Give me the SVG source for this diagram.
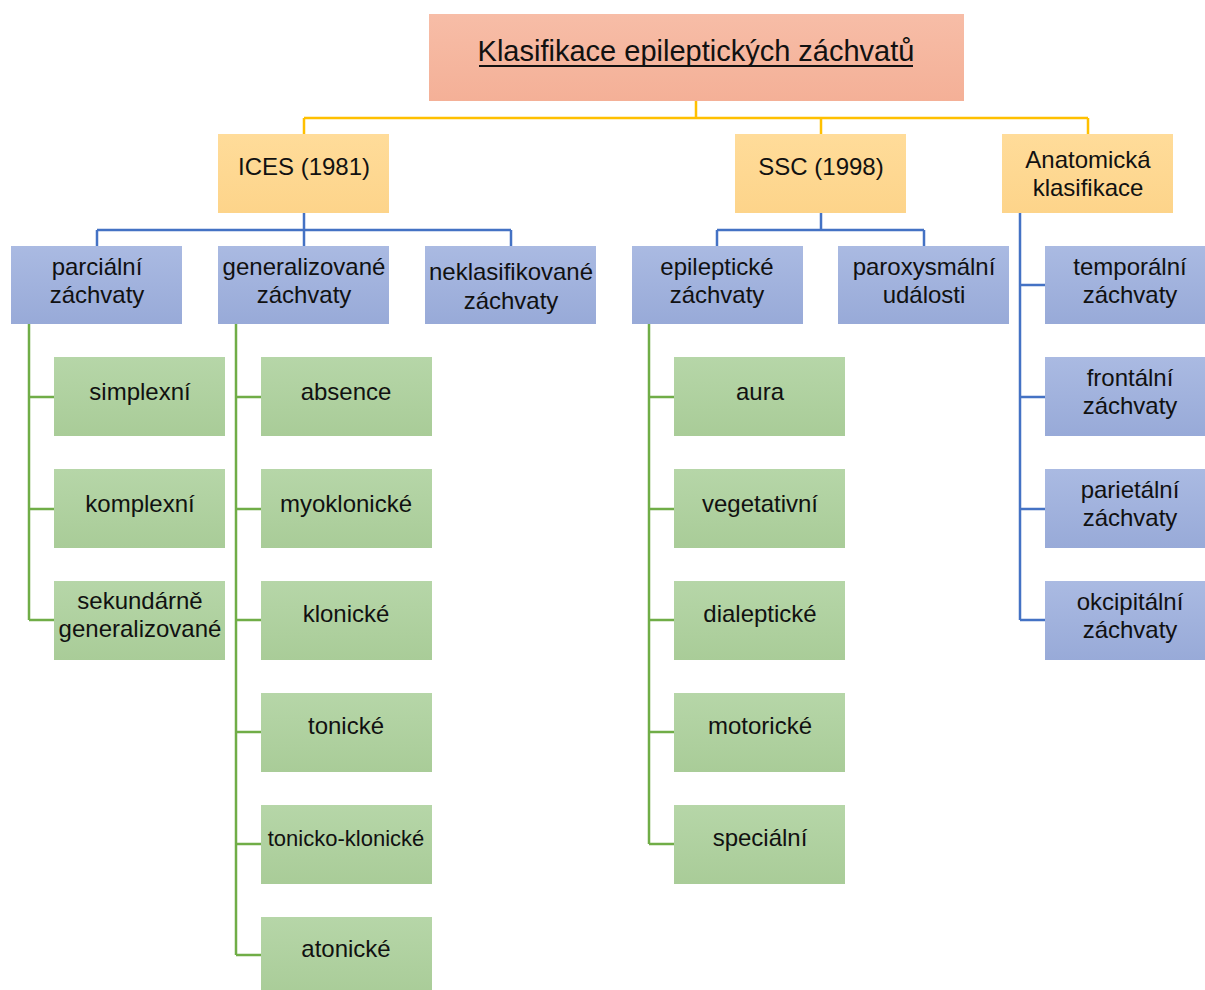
<svg xmlns="http://www.w3.org/2000/svg" width="1205" height="990" viewBox="0 0 1205 990">
<defs>
<linearGradient id="gTitle" x1="0" y1="0" x2="0" y2="1"><stop offset="0" stop-color="#F7BDA7"/><stop offset="1" stop-color="#F4B097"/></linearGradient>
<linearGradient id="gOrange" x1="0" y1="0" x2="0" y2="1"><stop offset="0" stop-color="#FFDC9A"/><stop offset="1" stop-color="#FDD48A"/></linearGradient>
<linearGradient id="gBlue" x1="0" y1="0" x2="0" y2="1"><stop offset="0" stop-color="#AABAE2"/><stop offset="1" stop-color="#98AAD8"/></linearGradient>
<linearGradient id="gGreen" x1="0" y1="0" x2="0" y2="1"><stop offset="0" stop-color="#B6D6A8"/><stop offset="1" stop-color="#A9CC98"/></linearGradient>
<style>
text{font-family:"Liberation Sans",Arial,sans-serif;font-size:24px;fill:#111;text-anchor:middle}
.t{fill:url(#gTitle)}
.o{fill:url(#gOrange)}
.b{fill:url(#gBlue)}
.g{fill:url(#gGreen)}
.cy{fill:none;stroke:#FFC000;stroke-width:2.5}
.cb{fill:none;stroke:#4472C4;stroke-width:2.5}
.cg{fill:none;stroke:#70AD47;stroke-width:2.5}
</style>
</defs>
<rect width="1205" height="990" fill="#fff"/>
<g id="connectors">
<path class="cy" d="M696 101V118M304 118H1088M304 118V134M821 118V134M1088 118V134"/>
<path class="cb" d="M304 213V230M97 230H511M97 230V246M304 230V246M511 230V246"/>
<path class="cb" d="M821 213V230M717 230H924M717 230V246M924 230V246"/>
<path class="cb" d="M1020 213V620M1020 285H1045M1020 397H1045M1020 509H1045M1020 620H1045"/>
<path class="cg" d="M29 324V620M29 397H54M29 509H54M29 620H54"/>
<path class="cg" d="M236 324V955M236 397H261M236 509H261M236 620H261M236 732H261M236 844H261M236 955H261"/>
<path class="cg" d="M649 324V844M649 397H674M649 509H674M649 620H674M649 732H674M649 844H674"/>
</g>
<g id="title"><rect class="t" x="429" y="14" width="535" height="87"/><text x="696" y="61" style="font-size:29px">Klasifikace epileptických záchvatů</text><line x1="479" y1="66" x2="913" y2="66" stroke="#111" stroke-width="2"/></g>
<g id="ices"><rect class="o" x="218" y="134" width="171" height="79"/><text x="304" y="175">ICES (1981)</text></g>
<g id="ssc"><rect class="o" x="735" y="134" width="171" height="79"/><text x="821" y="175">SSC (1998)</text></g>
<g id="anat"><rect class="o" x="1002" y="134" width="171" height="79"/><text x="1088" y="168">Anatomická</text><text x="1088" y="196">klasifikace</text></g>
<g id="parcialni"><rect class="b" x="11" y="246" width="171" height="78"/><text x="97" y="275">parciální</text><text x="97" y="303">záchvaty</text></g>
<g id="generalizovane"><rect class="b" x="218" y="246" width="171" height="78"/><text x="304" y="275">generalizované</text><text x="304" y="303">záchvaty</text></g>
<g id="neklasifikovane"><rect class="b" x="425" y="246" width="171" height="78"/><text x="511" y="280">neklasifikované</text><text x="511" y="309">záchvaty</text></g>
<g id="epilepticke"><rect class="b" x="632" y="246" width="171" height="78"/><text x="717" y="275">epileptické</text><text x="717" y="303">záchvaty</text></g>
<g id="paroxysmalni"><rect class="b" x="838" y="246" width="171" height="78"/><text x="924" y="275">paroxysmální</text><text x="924" y="303">události</text></g>
<g id="temporalni"><rect class="b" x="1045" y="246" width="160" height="78"/><text x="1130" y="275">temporální</text><text x="1130" y="303">záchvaty</text></g>
<g id="frontalni"><rect class="b" x="1045" y="357" width="160" height="79"/><text x="1130" y="386">frontální</text><text x="1130" y="414">záchvaty</text></g>
<g id="parietalni"><rect class="b" x="1045" y="469" width="160" height="79"/><text x="1130" y="498">parietální</text><text x="1130" y="526">záchvaty</text></g>
<g id="okcipitalni"><rect class="b" x="1045" y="581" width="160" height="79"/><text x="1130" y="610">okcipitální</text><text x="1130" y="638">záchvaty</text></g>
<g id="simplexni"><rect class="g" x="54" y="357" width="171" height="79"/><text x="140" y="400">simplexní</text></g>
<g id="komplexni"><rect class="g" x="54" y="469" width="171" height="79"/><text x="140" y="512">komplexní</text></g>
<g id="sekundarne"><rect class="g" x="54" y="581" width="171" height="79"/><text x="140" y="609">sekundárně</text><text x="140" y="637">generalizované</text></g>
<g id="absence"><rect class="g" x="261" y="357" width="171" height="79"/><text x="346" y="400">absence</text></g>
<g id="myoklonicke"><rect class="g" x="261" y="469" width="171" height="79"/><text x="346" y="512">myoklonické</text></g>
<g id="klonicke"><rect class="g" x="261" y="581" width="171" height="79"/><text x="346" y="622">klonické</text></g>
<g id="tonicke"><rect class="g" x="261" y="693" width="171" height="79"/><text x="346" y="734">tonické</text></g>
<g id="tonicko-klonicke"><rect class="g" x="261" y="805" width="171" height="79"/><text x="346" y="846" style="font-size:22px">tonicko-klonické</text></g>
<g id="atonicke"><rect class="g" x="261" y="917" width="171" height="79"/><text x="346" y="957">atonické</text></g>
<g id="aura"><rect class="g" x="674" y="357" width="171" height="79"/><text x="760" y="400">aura</text></g>
<g id="vegetativni"><rect class="g" x="674" y="469" width="171" height="79"/><text x="760" y="512">vegetativní</text></g>
<g id="dialepticke"><rect class="g" x="674" y="581" width="171" height="79"/><text x="760" y="622">dialeptické</text></g>
<g id="motoricke"><rect class="g" x="674" y="693" width="171" height="79"/><text x="760" y="734">motorické</text></g>
<g id="specialni"><rect class="g" x="674" y="805" width="171" height="79"/><text x="760" y="846">speciální</text></g>
</svg>
